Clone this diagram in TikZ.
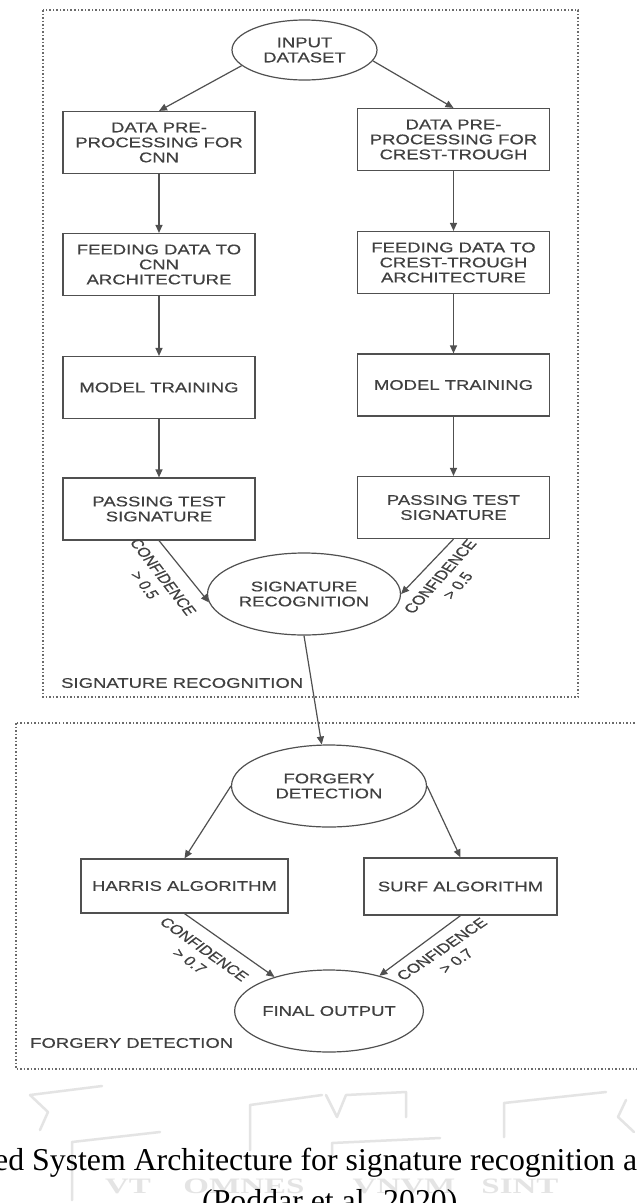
\documentclass[tikz,border=0pt]{standalone}
\usepackage{fontspec}
\usetikzlibrary{shapes.geometric,arrows.meta}
\newfontfamily\dfont[FakeStretch=1.32,FakeBold=0.5]{Liberation Sans}
\newfontfamily\lfont[FakeBold=0.4]{Liberation Sans}
\newfontfamily\cfont{Liberation Serif}
\newfontfamily\wfont[FakeStretch=1.5]{Liberation Serif}
\definecolor{ln}{HTML}{505050}
\definecolor{tx}{HTML}{404040}
\definecolor{wm}{HTML}{E4E4E4}
\tikzset{
  box/.style={draw=ln, line width=1.2pt, minimum width=192pt, minimum height=62pt,
    inner sep=0pt, align=center, text=tx, font=\dfont\fontsize{14}{15}\selectfont},
  oval/.style={ellipse, draw=ln, line width=1.2pt, inner sep=0pt, align=center,
    text=tx, font=\dfont\fontsize{14}{15}\selectfont},
  arr/.style={draw=ln, line width=1.2pt, -{Triangle[length=8pt,width=7pt]}},
  grp/.style={draw=ln!85, line width=1.3pt, dash pattern=on 1.5pt off 2pt},
  conf/.style={font=\lfont\fontsize{13}{16}\selectfont, text=tx, align=center,
    inner sep=0pt, transform shape},
  grplab/.style={font=\dfont\fontsize{14}{15}\selectfont, text=tx, anchor=west, inner sep=0pt},
  wmline/.style={draw=wm, line width=2.5pt, line join=round, line cap=round},
  wmtext/.style={text=wm, font=\wfont\bfseries\fontsize{22}{22}\selectfont, anchor=base, inner sep=0pt},
  captext/.style={text=black, font=\cfont\fontsize{31.8}{36}\selectfont, anchor=base west, inner sep=0pt}
}
\begin{document}
\begin{tikzpicture}[x=1pt,y=-1pt]
\useasboundingbox (0,0) rectangle (637,1203);
\clip (0,0) rectangle (637,1203);
\fill[white] (0,0) rectangle (637,1203);

% faint watermark
\draw[wmline] (30,1095) -- (102,1086);
\draw[wmline] (30,1095) -- (48,1112) -- (40,1130);
\draw[wmline] (72,1200) -- (72,1142) -- (160,1132);
\draw[wmline] (250,1150) -- (250,1105) -- (322,1095);
\draw[wmline] (326,1095) -- (337,1117) -- (346,1095) -- (406,1092) -- (406,1117);
\draw[wmline] (332,1160) -- (332,1143) -- (440,1138);
\draw[wmline] (504,1137) -- (504,1103) -- (606,1092);
\draw[wmline] (626,1100) -- (618,1117) -- (634,1132);
\node[wmtext] (w1) at (128,1193) {VT};
\node[wmtext] (w2) at (244,1193) {OMNES};
\node[wmtext] (w3) at (404,1193) {VNVM};
\node[wmtext] (w4) at (520,1193) {SINT};

% group frames
\draw[grp] (43,10) rectangle (578,697);
\draw[grp] (16,723) rectangle (660,1069);

% nodes
\node[oval, minimum width=145pt, minimum height=60pt] (inp) at (304.5,50) {INPUT\\DATASET};
\node[box] (l1) at (159,142.5) {DATA PRE-\\PROCESSING FOR\\CNN};
\node[box] (r1) at (453.5,139.5) {DATA PRE-\\PROCESSING FOR\\CREST-TROUGH};
\node[box] (l2) at (159,264.5) {FEEDING DATA TO\\CNN\\ARCHITECTURE};
\node[box] (r2) at (453.5,262.5) {FEEDING DATA TO\\CREST-TROUGH\\ARCHITECTURE};
\node[box] (l3) at (159,387.5) {MODEL TRAINING};
\node[box] (r3) at (453.5,385) {MODEL TRAINING};
\node[box] (l4) at (159,509) {PASSING TEST\\SIGNATURE};
\node[box] (r4) at (453.5,507.5) {PASSING TEST\\SIGNATURE};
\node[oval, minimum width=193pt, minimum height=82pt] (sig) at (304,594) {SIGNATURE\\RECOGNITION};
\node[oval, minimum width=195pt, minimum height=82pt] (forg) at (329,786) {FORGERY\\DETECTION};
\node[box, minimum width=207pt, minimum height=54pt] (har) at (184.5,886) {HARRIS ALGORITHM};
\node[box, minimum width=193pt, minimum height=57pt] (surf) at (460.5,886.5) {SURF ALGORITHM};
\node[oval, minimum width=182pt, minimum height=82pt] (fin) at (329,1011) {FINAL OUTPUT};

% group labels
\node[grplab] (g1) at (61,683) {SIGNATURE RECOGNITION};
\node[grplab] (g2) at (30,1043) {FORGERY DETECTION};

% connectors
\draw[arr] (inp.194) -- (l1.north);
\draw[arr] (inp.351) -- (r1.north);
\draw[arr] (l1) -- (l2);
\draw[arr] (l2) -- (l3);
\draw[arr] (l3) -- (l4);
\draw[arr] (r1) -- (r2);
\draw[arr] (r2) -- (r3);
\draw[arr] (r3) -- (r4);
\draw[arr] (l4.south) -- (sig.185);
\draw[arr] (r4.south) -- (sig.east);
\draw[arr] (sig.south) -- (forg.100);
\draw[arr] (forg.west) -- (har.north);
\draw[arr] (forg.east) -- (surf.north);
\draw[arr] (har.south) -- (fin.148);
\draw[arr] (surf.south) -- (fin.35);

% edge labels (horizontally stretched like the source image)
\begin{scope}[xscale=1.33]
\node[conf, rotate=-59.8] (c1) at ({154/1.33},581) {CONFIDENCE\\> 0.5};
\node[conf, rotate=55.8] (c2) at ({449/1.33},581) {CONFIDENCE\\> 0.5};
\node[conf, rotate=-43.4] (c3) at ({197/1.33},955) {CONFIDENCE\\> 0.7};
\node[conf, rotate=42.1] (c4) at ({449/1.33},955) {CONFIDENCE\\> 0.7};
\end{scope}

% caption
\node[captext] (cap1) at (-6,1170) {ed System Architecture for signature recognition a};
\node[captext] (cap2) at (202,1211) {(Poddar et al. 2020)};
\end{tikzpicture}
\end{document}
